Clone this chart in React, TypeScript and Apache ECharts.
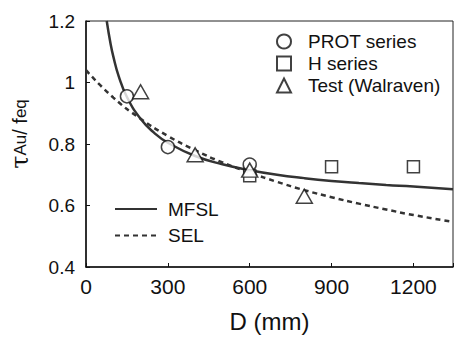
import React, { useEffect, useRef } from "react";
import * as echarts from "echarts";

const xTicks = [0, 300, 600, 900, 1200];
const yTicks = [0.4, 0.6, 0.8, 1, 1.2];

const protSeries: [number, number][] = [
  [150, 0.955],
  [300, 0.79],
  [600, 0.733],
];
const hSeries: [number, number][] = [
  [600, 0.697],
  [900, 0.726],
  [1200, 0.726],
];
const testWalraven: [number, number][] = [
  [200, 0.97],
  [400, 0.765],
  [600, 0.715],
  [800, 0.63],
];
const mfslCurve: [number, number][] = [
  [76, 1.2], [90, 1.126], [100, 1.085], [120, 1.02], [150, 0.953], [200, 0.882],
  [250, 0.836], [300, 0.804], [400, 0.761], [500, 0.734], [600, 0.715],
  [700, 0.7], [800, 0.689], [900, 0.68], [1000, 0.673], [1100, 0.667],
  [1200, 0.662], [1345, 0.653],
];
const selCurve: [number, number][] = [
  [0, 1.04], [100, 0.951], [200, 0.882], [300, 0.826], [400, 0.78],
  [500, 0.74], [600, 0.707], [700, 0.677], [800, 0.65], [900, 0.627],
  [1000, 0.606], [1100, 0.587], [1200, 0.569], [1345, 0.547],
];

const FONT = "Liberation Sans, Arial, sans-serif";

export default function App() {
  const ref = useRef<HTMLDivElement>(null);
  useEffect(() => {
    if (!ref.current) return;
    const chart = echarts.init(ref.current, undefined, { renderer: "svg" });
    const markerStyle = { color: "#fff", borderColor: "#111", borderWidth: 1.5 };
    chart.setOption({
      animation: false,
      backgroundColor: "#fff",
      grid: {
        left: 86, right: 11, top: 21, bottom: 71,
        show: true, borderColor: "#222", borderWidth: 1, backgroundColor: "transparent",
      },
      xAxis: {
        type: "value", min: 0, max: 1345, interval: 300,
        name: "D (mm)", nameLocation: "middle", nameGap: 42,
        nameTextStyle: { fontFamily: FONT, fontSize: 24, color: "#111" },
        axisLine: { lineStyle: { color: "#111", width: 1.5 } },
        axisTick: { inside: true, length: 4, lineStyle: { color: "#111" } },
        splitLine: { show: false },
        axisLabel: {
          margin: 9, fontFamily: FONT, fontSize: 21, color: "#111",
          formatter: (v: number) => (xTicks.includes(v) ? String(v) : ""),
        },
      },
      yAxis: {
        type: "value", min: 0.4, max: 1.2, interval: 0.2,
        axisLine: { show: true, lineStyle: { color: "#111", width: 1.5 } },
        axisTick: { show: true, inside: true, length: 4, lineStyle: { color: "#111" } },
        splitLine: { show: false },
        axisLabel: {
          margin: 11, fontFamily: FONT, fontSize: 19, color: "#111",
          formatter: (v: number) => {
            const t = yTicks.find((y) => Math.abs(y - v) < 1e-6);
            return t === undefined ? "" : String(t);
          },
        },
      },
      legend: [
        {
          data: ["PROT series", "H series", "Test (Walraven)"],
          orient: "vertical", left: 271, top: 27, itemGap: 3,
          itemWidth: 14, itemHeight: 14,
          textStyle: { fontFamily: FONT, fontSize: 19, color: "#111", lineHeight: 18.5, padding: [0, 0, 0, 12] },
        },
        {
          data: ["MFSL", "SEL"],
          orient: "vertical", left: 109, top: 194, itemGap: 6.5,
          itemWidth: 42, itemHeight: 12,
          itemStyle: { opacity: 0 },
          textStyle: { fontFamily: FONT, fontSize: 19, color: "#111", lineHeight: 20, padding: [0, 0, 0, 6] },
        },
      ],
      graphic: [
        {
          type: "text", x: 20, y: 134, rotation: Math.PI / 2,
          style: {
            text: "{t|τ}{s|Au}{n|/ f}{s|eq}",
            align: "center", verticalAlign: "middle",
            rich: {
              t: { fontFamily: "DejaVu Serif, serif", fontSize: 24, fill: "#111" },
              s: { fontFamily: FONT, fontSize: 17, fill: "#111" },
              n: { fontFamily: FONT, fontSize: 20, fill: "#111" },
            },
          },
        },
      ],
      series: [
        {
          name: "MFSL", type: "line", data: mfslCurve, smooth: true, showSymbol: false, symbol: "none",
          lineStyle: { color: "#333", width: 2.5 }, itemStyle: { color: "#333" }, z: 2,
        },
        {
          name: "SEL", type: "line", data: selCurve, smooth: true, showSymbol: false, symbol: "none",
          lineStyle: { color: "#333", width: 2.5, type: [5, 4] }, itemStyle: { color: "#333" }, z: 2,
        },
        { name: "PROT series", type: "scatter", data: protSeries, symbol: "circle", symbolSize: 13, itemStyle: markerStyle, z: 3 },
        { name: "H series", type: "scatter", data: hSeries, symbol: "rect", symbolSize: 12, itemStyle: markerStyle, z: 3 },
        { name: "Test (Walraven)", type: "scatter", data: testWalraven, symbol: "triangle", symbolSize: [16, 14], itemStyle: markerStyle, z: 4 },
      ],
    });
    return () => chart.dispose();
  }, []);
  return <div ref={ref} style={{ width: 464, height: 338, position: "absolute", left: 0, top: 0 }} />;
}
